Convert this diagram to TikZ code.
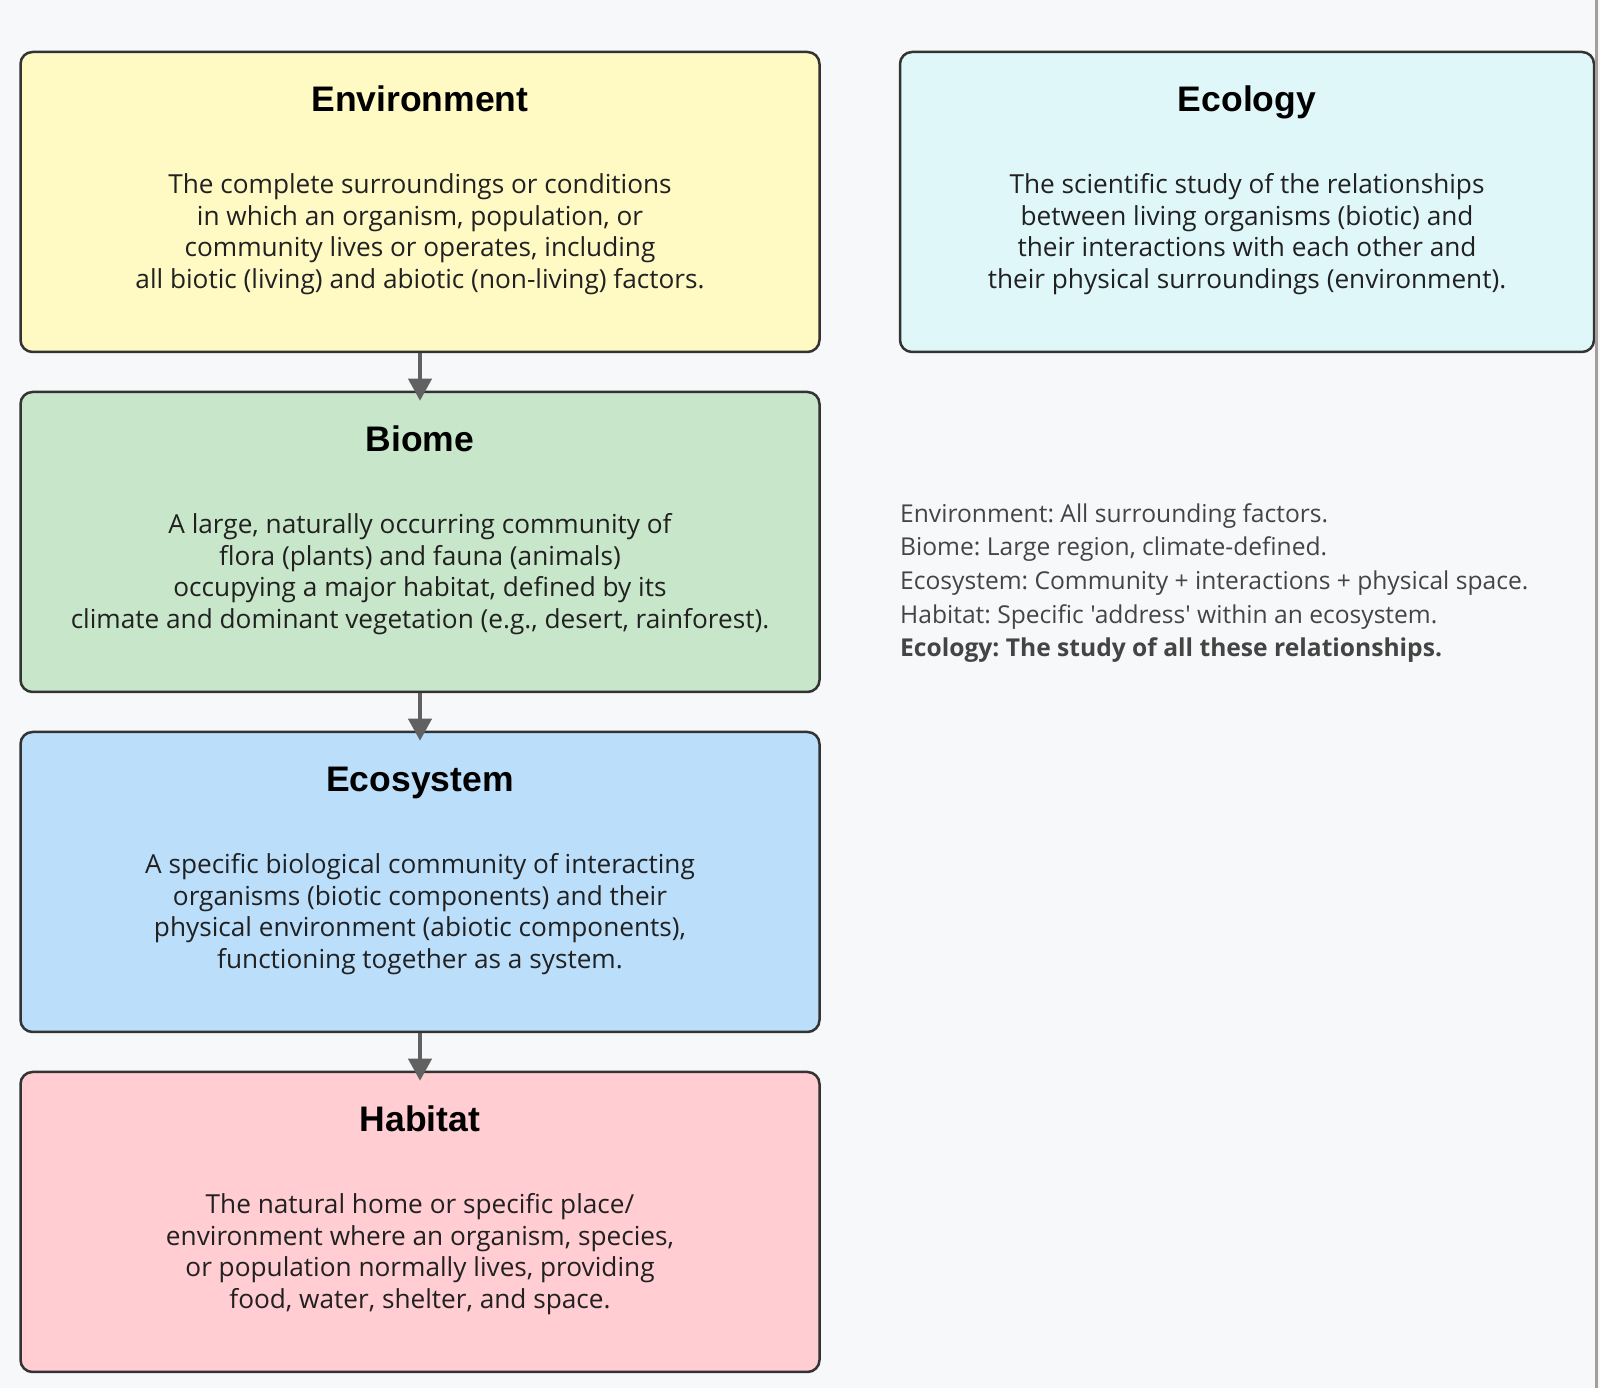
\documentclass[tikz,border=0pt]{standalone}
\usepackage{fontspec}
\setmainfont{Open Sans}[Ligatures=TeXOff]
\newfontfamily\headfont{Liberation Sans}
\usetikzlibrary{arrows.meta,positioning}
\frenchspacing

\definecolor{pagebg}{HTML}{F7F8FA}
\definecolor{envfill}{HTML}{FFF9C4}
\definecolor{biomefill}{HTML}{C8E6C9}
\definecolor{ecofill}{HTML}{BBDEFB}
\definecolor{habfill}{HTML}{FFCDD2}
\definecolor{ecolfill}{HTML}{E0F7FA}
\definecolor{edgedark}{HTML}{333333}
\definecolor{flowgray}{HTML}{616161}
\definecolor{notegray}{HTML}{444444}
\definecolor{rimgray}{HTML}{A39F98}

\tikzset{
  card/.style={draw=edgedark, line width=2.5pt, rounded corners=12pt,
    minimum width=799pt, minimum height=300pt, inner sep=0pt},
  cardtitle/.style={font=\headfont\bfseries\fontsize{35.5}{42}\selectfont,
    text=black, anchor=base},
  cardbody/.style={font=\fontsize{26.2}{31.4}\selectfont, text=black!87,
    align=center, anchor=north, inner sep=0pt},
  flow/.style={flowgray, line width=4pt, shorten >=-10pt,
    -{Triangle[width=23pt,length=22pt]}},
  note/.style={font=\fontsize{24.6}{33.7}\selectfont, text=notegray,
    align=left, anchor=north west, inner sep=0pt}
}

\begin{document}
\begin{tikzpicture}[x=1pt,y=1pt]
  \fill[pagebg] (0,0) rectangle (1600,1388);
  \useasboundingbox (0,0) rectangle (1600,1388);

  % left column
  \node[card, fill=envfill] (env) at (420,1186) {};
  \node[card, fill=biomefill, below=37.5pt of env] (biome) {};
  \node[card, fill=ecofill, below=37.5pt of biome] (eco) {};
  \node[card, fill=habfill, below=37.5pt of eco] (hab) {};

  % right column
  \node[card, fill=ecolfill, minimum width=694pt] (ecol) at (1247,1186) {};
  \fill[rimgray] (1594.5,0) rectangle (1598,1388);

  \node[cardtitle] (envtitle) at ([yshift=-61pt]env.north) {Environment};
  \node[cardbody] (envbody) at ([yshift=-123pt]env.north)
    {The complete surroundings or conditions\\
     in which an organism, population, or\\
     community lives or operates, including\\
     all biotic (living) and abiotic (non-living) factors.};

  \node[cardtitle] (biometitle) at ([yshift=-61pt]biome.north) {Biome};
  \node[cardbody] (biomebody) at ([yshift=-123pt]biome.north)
    {A large, naturally occurring community of\\
     flora (plants) and fauna (animals)\\
     occupying a major habitat, defined by its\\
     climate and dominant vegetation (e.g., desert, rainforest).};

  \node[cardtitle] (ecotitle) at ([yshift=-61pt]eco.north) {Ecosystem};
  \node[cardbody] (ecobody) at ([yshift=-123pt]eco.north)
    {A specific biological community of interacting\\
     organisms (biotic components) and their\\
     physical environment (abiotic components),\\
     functioning together as a system.};

  \node[cardtitle] (habtitle) at ([yshift=-61pt]hab.north) {Habitat};
  \node[cardbody] (habbody) at ([yshift=-123pt]hab.north)
    {The natural home or specific place/\\
     environment where an organism, species,\\
     or population normally lives, providing\\
     food, water, shelter, and space.};

  \node[cardtitle] (ecoltitle) at ([yshift=-61pt]ecol.north) {Ecology};
  \node[cardbody] (ecolbody) at ([yshift=-123pt]ecol.north)
    {The scientific study of the relationships\\
     between living organisms (biotic) and\\
     their interactions with each other and\\
     their physical surroundings (environment).};

  % summary
  \node[note] (summary) at (900,885)
    {Environment: All surrounding factors.\\
     Biome: Large region, climate-defined.\\
     Ecosystem: Community + interactions + physical space.\\
     Habitat: Specific 'address' within an ecosystem.\\
     \textbf{Ecology: The study of all these relationships.}};

  \foreach \a/\b in {env/biome,biome/eco,eco/hab}
    \draw[flow] (\a.south) -- (\b.north);
\end{tikzpicture}
\end{document}
